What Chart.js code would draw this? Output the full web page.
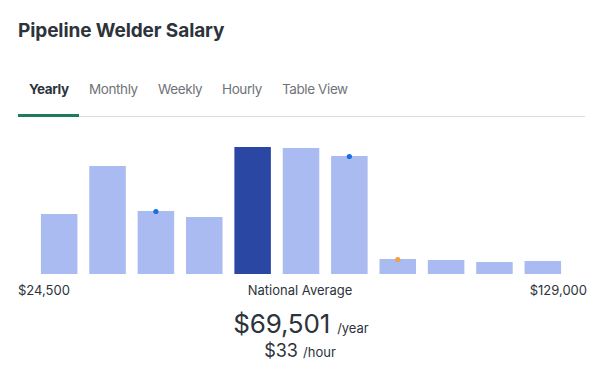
<!DOCTYPE html>
<html>
<head>
<meta charset="utf-8">
<script src="https://cdn.jsdelivr.net/npm/chart.js@4.4.1/dist/chart.umd.min.js"></script>
<style>
  body { margin: 0; width: 600px; height: 381px; background: #fff; font-family: Inter, "Noto Sans", sans-serif; color: #2d333a; position: relative; overflow: hidden; }
  .abs { position: absolute; white-space: nowrap; }
  #title { left: 18px; top: 19px; font-size: 19px; font-weight: 700; color: #2d333a; letter-spacing: -0.1px; }
  .tab { top: 81px; font-size: 13.5px; color: #6f7378; letter-spacing: -0.4px; }
  .tab.active { color: #2d333a; font-weight: 700; }
  #tabLine { left: 18px; top: 116px; width: 567px; height: 1px; background: #dcdcdc; }
  #tabUnder { left: 18px; top: 113.5px; width: 61px; height: 3px; background: #1e7b5c; }
  #chartBox { left: 35px; top: 130px; width: 532px; height: 144px; }
  .lbl { top: 282px; font-size: 13px; color: #2d333a; }
  #avg { left: 1px; width: 600px; top: 308px; text-align: center; font-size: 26px; color: #2d333a; letter-spacing: -0.2px; }
  #avg small, #hour small { font-size: 13px; letter-spacing: 0; }
  #hour { left: 0; width: 600px; top: 340px; text-align: center; font-size: 18px; color: #2d333a; }
</style>
</head>
<body>
<div class="abs" id="title">Pipeline Welder Salary</div>
<div class="abs tab active" style="left:29px">Yearly</div>
<div class="abs tab" style="left:89px">Monthly</div>
<div class="abs tab" style="left:158px">Weekly</div>
<div class="abs tab" style="left:222px">Hourly</div>
<div class="abs tab" style="left:282px">Table View</div>
<div class="abs" id="tabLine"></div>
<div class="abs" id="tabUnder"></div>

<div class="abs" id="chartBox"><canvas id="salaryChart"></canvas></div>

<div class="abs lbl" style="left:18px">$24,500</div>
<div class="abs lbl" style="left:0;width:600px;text-align:center">National Average</div>
<div class="abs lbl" style="right:13px">$129,000</div>
<div class="abs" id="avg">$69,501 <small>/year</small></div>
<div class="abs" id="hour">$33 <small>/hour</small></div>

<script>
let bins = ["1", "2", "3", "4", "5", "6", "7", "8", "9", "10", "11"];
let counts = [60, 108, 63, 57, 127, 126, 118, 15, 14, 12, 13]; // relative job counts per salary bin
let averageBin = 4; // national average bin (dark bar)
let markerValues = [null, null, 62.5, null, null, null, 117.5, 14.5, null, null, null];
let markerColors = ["#1a6fe0", "#1a6fe0", "#1a6fe0", "#1a6fe0", "#1a6fe0", "#1a6fe0", "#1a6fe0", "#f5a142", "#1a6fe0", "#1a6fe0", "#1a6fe0"];

let barColors = counts.map((v, i) => i === averageBin ? "#2a47a3" : "#aabbf1");

new Chart(document.getElementById("salaryChart"), {
  type: "bar",
  data: {
    labels: bins,
    datasets: [
      {
        type: "line",
        data: markerValues,
        showLine: false,
        pointRadius: 2.6,
        pointBackgroundColor: markerColors,
        pointBorderWidth: 0,
        clip: false,
        order: 0
      },
      {
        data: counts,
        backgroundColor: barColors,
        barPercentage: 0.755,
        categoryPercentage: 1,
        order: 1
      }
    ]
  },
  options: {
    responsive: true,
    maintainAspectRatio: false,
    animation: false,
    layout: { padding: 0, autoPadding: false },
    scales: {
      x: { display: false },
      y: { display: false, min: 0, max: 144 }
    },
    plugins: {
      legend: { display: false },
      tooltip: { enabled: false }
    }
  }
});
</script>
</body>
</html>
